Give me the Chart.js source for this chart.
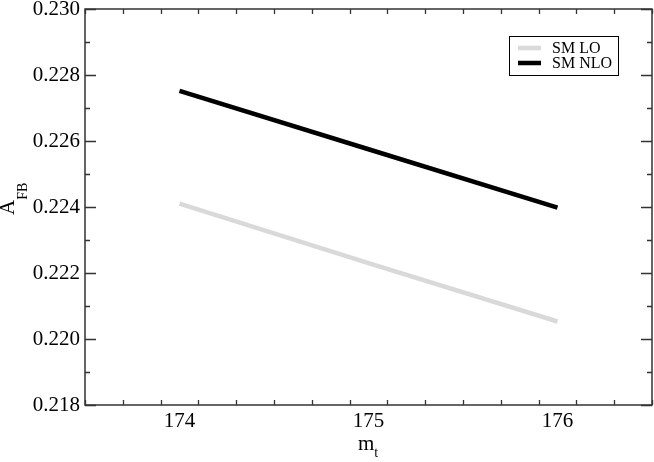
<!DOCTYPE html>
<html><head><meta charset="utf-8">
<script src="https://cdn.jsdelivr.net/npm/chart.js@4"></script>
<style>html,body{margin:0;padding:0;background:#fff}#w{width:654px;height:462px}</style>
</head><body><div id="w"><canvas id="c"></canvas></div>
<script>
const massValues = [174, 175, 176];
const smLO = [0.22410, 0.22230, 0.22053];
const smNLO = [0.22752, 0.22575, 0.22398];
const seriesLabels = ['SM LO', 'SM NLO'];
const xRange = [173.5, 176.5];
const yRange = [0.218, 0.230];
const FONT = '"Liberation Serif", "Times New Roman", serif';

const frameTicks = {
  id: 'frameTicks',
  afterDraw(chart) {
    const {ctx, chartArea: a, scales: {x, y}} = chart;
    ctx.save();
    ctx.strokeStyle = '#333';
    ctx.lineWidth = 1.5;
    ctx.strokeRect(a.left, a.top, a.right - a.left, a.bottom - a.top);
    ctx.lineWidth = 1.3;
    ctx.beginPath();
    for (let i = 0; i <= 15; i++) {
      const v = xRange[0] + i * 0.2;
      if (v > xRange[1] + 1e-9) break;
      const px = Math.round(x.getPixelForValue(v)) + 0.5;
      const major = Math.abs(v - Math.round(v)) < 1e-6;
      const L = major ? 11 : 5;
      ctx.moveTo(px, a.bottom); ctx.lineTo(px, a.bottom - L);
      ctx.moveTo(px, a.top); ctx.lineTo(px, a.top + L);
    }
    for (let i = 0; i <= 12; i++) {
      const v = yRange[0] + i * 0.001;
      const py = Math.round(y.getPixelForValue(v)) + 0.5;
      const major = i % 2 === 0;
      const L = major ? 11 : 5;
      ctx.moveTo(a.left, py); ctx.lineTo(a.left + L, py);
      ctx.moveTo(a.right, py); ctx.lineTo(a.right - L, py);
    }
    ctx.stroke();

    // axis titles
    ctx.fillStyle = '#000';
    ctx.textBaseline = 'alphabetic';
    ctx.textAlign = 'left';
    ctx.font = '21px ' + FONT;
    const mW = ctx.measureText('m').width;
    const sx = 358;
    ctx.fillText('m', sx, 450);
    ctx.font = '14px ' + FONT;
    ctx.fillText('t', sx + mW, 457);

    ctx.save();
    ctx.translate(14, 0);
    ctx.rotate(-Math.PI / 2);
    ctx.font = '21px ' + FONT;
    const aW = ctx.measureText('A').width;
    ctx.fillText('A', -215, 0);
    ctx.font = '14px ' + FONT;
    ctx.fillText('FB', -215 + aW, 13);
    ctx.restore();

    // legend
    const lx = 509, ly = 36, lw = 109, lh = 39;
    ctx.fillStyle = '#fff';
    ctx.fillRect(lx, ly, lw, lh);
    ctx.strokeStyle = '#000';
    ctx.lineWidth = 1;
    ctx.strokeRect(lx + 0.5, ly + 0.5, lw, lh);
    ctx.font = '16px ' + FONT;
    ctx.textBaseline = 'middle';
    chart.data.datasets.forEach((ds, i) => {
      const yy = ly + 12 + i * 15;
      ctx.strokeStyle = ds.borderColor;
      ctx.lineWidth = ds.borderWidth;
      ctx.beginPath(); ctx.moveTo(lx + 9, yy); ctx.lineTo(lx + 32, yy); ctx.stroke();
      ctx.fillStyle = '#000';
      ctx.fillText(ds.label, lx + 43, yy + 1);
    });
    ctx.restore();
  }
};

new Chart(document.getElementById('c'), {
  type: 'line',
  data: {
    datasets: [
      {label: seriesLabels[0], data: massValues.map((m, i) => ({x: m, y: smLO[i]})), borderColor: '#d9d9d9', borderWidth: 4.5, pointRadius: 0, tension: 0},
      {label: seriesLabels[1], data: massValues.map((m, i) => ({x: m, y: smNLO[i]})), borderColor: '#000', borderWidth: 4.5, pointRadius: 0, tension: 0}
    ]
  },
  options: {
    responsive: true, maintainAspectRatio: false, animation: false,
    layout: {padding: {left: 0, right: 2, top: 9, bottom: 0}},
    plugins: {legend: {display: false}, tooltip: {enabled: false}},
    scales: {
      x: {type: 'linear', min: xRange[0], max: xRange[1],
        afterBuildTicks: s => { s.ticks = massValues.map(v => ({value: v})); },
        grid: {display: false, drawTicks: false}, border: {display: false},
        ticks: {color: '#000', font: {family: FONT, size: 21}, padding: 4, maxRotation: 0,
          callback: v => String(v)},
        afterFit: s => { s.height = 57; s.paddingLeft = 0; s.paddingRight = 0; }
      },
      y: {type: 'linear', min: yRange[0], max: yRange[1],
        afterBuildTicks: s => { const t = []; for (let i = 0; i <= 6; i++) t.push({value: yRange[0] + i * 0.002}); s.ticks = t; },
        grid: {display: false, drawTicks: false}, border: {display: false},
        ticks: {color: '#000', font: {family: FONT, size: 21}, padding: 5,
          callback: v => v.toFixed(3)},
        afterFit: s => { s.width = 85; s.paddingTop = 0; s.paddingBottom = 0; }
      }
    }
  },
  plugins: [frameTicks]
});
</script></body></html>
